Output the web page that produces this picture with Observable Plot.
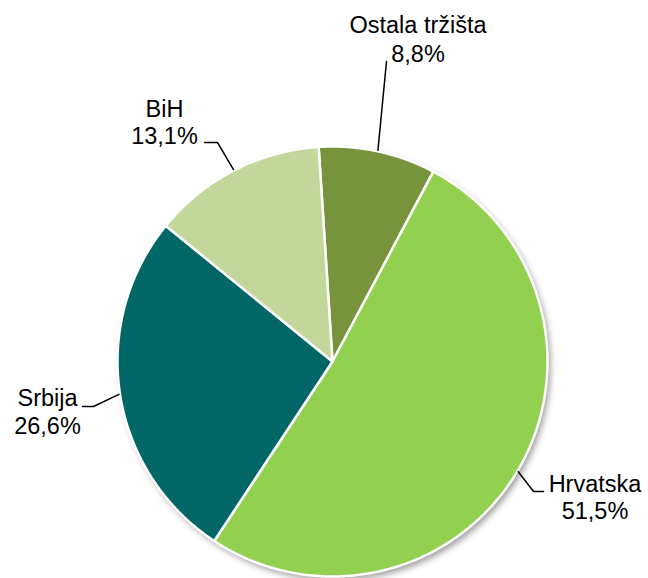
<!DOCTYPE html>
<html>
<head>
<meta charset="utf-8">
<script src="https://cdn.jsdelivr.net/npm/d3@7"></script>
<script src="https://cdn.jsdelivr.net/npm/@observablehq/plot@0.6"></script>
<style>
  html, body { margin: 0; padding: 0; background: #fff; }
  #chart { width: 648px; height: 578px; }
</style>
</head>
<body>
<div id="chart"></div>
<script>
// ---- data ----
const categories = ["Ostala tržišta", "Hrvatska", "Srbija", "BiH"];
const values = [8.8, 51.5, 26.6, 13.1];
const valueLabels = ["8,8%", "51,5%", "26,6%", "13,1%"];
const colors = ["#77933C", "#92D050", "#006666", "#C4D79B"];

// ---- layout ----
const W = 648, H = 578;
const cx = 332, cy = 361, R = 215;
const startDeg = -3.7;
const fontSize = 23.5;
// label layout: text center x, first and second baselines, leader path (label side points)
const labelLayout = {
  "Ostala tržišta": {x: 417.5, b1: 32, b2: 61, leader: [[386, 61]]},
  "Hrvatska":       {x: 594.5, b1: 491, b2: 518, leader: [[543, 491], [533, 491]]},
  "Srbija":         {x: 47,    b1: 405, b2: 433, leader: [[82, 406], [93, 406]]},
  "BiH":            {x: 164,   b1: 116, b2: 143, leader: [[204, 142], [217, 142]]}
};

const rad = d => d * Math.PI / 180;
const pie = d3.pie().sort(null).value(d => d.value)
  .startAngle(rad(startDeg)).endAngle(rad(startDeg) + 2 * Math.PI);
const table = categories.map((c, i) => ({name: c, value: values[i], label: valueLabels[i]}));
const arcs = pie(table);

const pt = (a, r) => [cx + r * Math.sin(a), cy - r * Math.cos(a)];

// slice polygons
const polys = [];
for (const a of arcs) {
  polys.push({name: a.data.name, x: cx, y: cy});
  const n = Math.max(2, Math.ceil((a.endAngle - a.startAngle) / rad(0.5)));
  for (let k = 0; k <= n; k++) {
    const ang = a.startAngle + (a.endAngle - a.startAngle) * k / n;
    const [x, y] = pt(ang, R);
    polys.push({name: a.data.name, x, y});
  }
}

// leaders
const leaders = [];
for (const a of arcs) {
  const L = labelLayout[a.data.name];
  const mid = (a.startAngle + a.endAngle) / 2;
  L.leader.forEach(([x, y]) => leaders.push({name: a.data.name, x, y}));
  const [ex, ey] = pt(mid, R + 1);
  leaders.push({name: a.data.name, x: ex, y: ey});
}

const textRows = [];
for (const a of arcs) {
  const L = labelLayout[a.data.name];
  textRows.push({t: a.data.name, x: L.x, y: L.b1 - 0.32 * fontSize});
  textRows.push({t: a.data.label, x: L.x, y: L.b2 - 0.32 * fontSize});
}

const chart = Plot.plot({
  width: W, height: H,
  margin: 0,
  x: {domain: [0, W], range: [0, W], axis: null},
  y: {domain: [0, H], range: [0, H], axis: null},
  color: {domain: categories, range: colors},
  style: {fontFamily: "'Liberation Sans', Arial, sans-serif", background: "white"},
  marks: [
    Plot.dot([{x: cx + 3, y: cy + 4}], {x: "x", y: "y", r: R, fill: "#777", stroke: "none", fillOpacity: 0.7}),
    Plot.line(polys, {x: "x", y: "y", z: "name", fill: "name", stroke: "white", strokeWidth: 2.5, curve: "linear-closed", strokeLinejoin: "round"}),
    Plot.line(leaders, {x: "x", y: "y", z: "name", stroke: "black", strokeWidth: 1.5}),
    Plot.text(textRows, {x: "x", y: "y", text: "t", fontSize: fontSize, fill: "black", textAnchor: "middle"})
  ]
});

// soft shadow
const svg = d3.select(chart);
const defs = svg.insert("defs", ":first-child");
defs.append("filter").attr("id", "pieShadow").attr("x", "-20%").attr("y", "-20%").attr("width", "140%").attr("height", "140%")
  .append("feGaussianBlur").attr("stdDeviation", 3);
svg.select("g[aria-label=dot]").attr("filter", "url(#pieShadow)");

document.getElementById("chart").appendChild(chart);
</script>
</body>
</html>
